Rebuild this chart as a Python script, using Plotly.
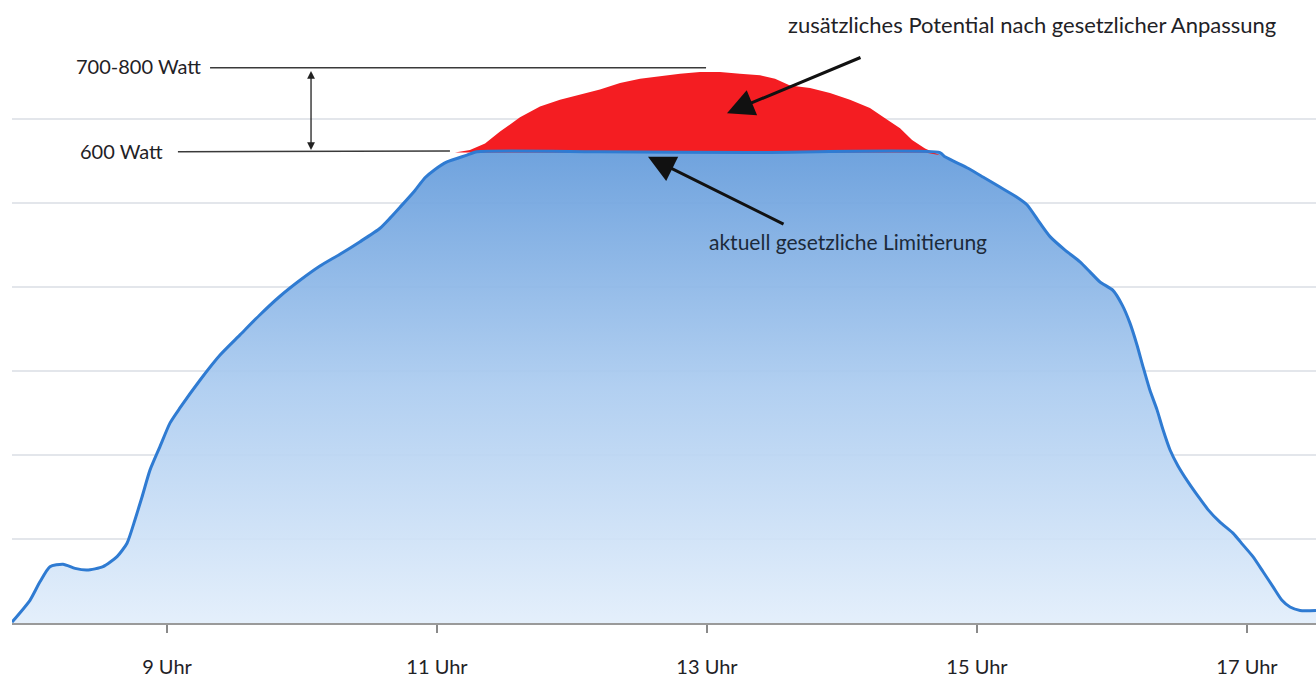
import numpy as np
import plotly.graph_objects as go

# ---- data (hour of day, Watt) ----
LIMIT = 560  # current legal limit (drawn as "600 Watt" in the sketch)

hours_actual = [7.852, 7.985, 8.059, 8.133, 8.230, 8.319, 8.407, 8.526, 8.630, 8.704,
                8.763, 8.815, 8.874, 8.948, 9.022, 9.096, 9.244, 9.393, 9.541, 9.689,
                9.837, 9.985, 10.133, 10.281, 10.430, 10.578, 10.652, 10.726, 10.837, 10.911,
                10.985, 11.074, 11.222, 11.296, 12.207, 13.319, 14.726, 14.763, 14.926, 15.044,
                15.170, 15.296, 15.370, 15.467, 15.541, 15.652, 15.763, 15.837, 15.911,
                16.007, 16.074, 16.133, 16.185, 16.230, 16.281, 16.333, 16.378, 16.430,
                16.489, 16.563, 16.637, 16.711, 16.800, 16.896, 16.970, 17.044, 17.119,
                17.193, 17.259, 17.319, 17.393, 17.511]
watt_actual = [1, 27, 49, 67, 70, 65, 63, 67, 79, 95,
               123, 150, 182, 210, 238, 256, 289, 319, 343, 367,
               389, 408, 425, 439, 454, 470, 482, 495, 515, 530,
               540, 549, 557, 561, 561, 560, 560, 555, 542, 531,
               519, 507, 498, 476, 460, 444, 430, 418, 406,
               396, 379, 357, 331, 305, 277, 254, 230, 206,
               187, 168, 151, 135, 120, 107, 93, 79, 61,
               43, 27, 19, 15, 15]

hours_potential = [11.133, 11.244, 11.356, 11.467, 11.615, 11.763, 11.911, 12.059, 12.207,
                   12.356, 12.504, 12.652, 12.800, 12.948, 13.096, 13.244, 13.393, 13.504,
                   13.615, 13.763, 13.911, 14.059, 14.207, 14.319, 14.430, 14.519, 14.615,
                   14.726, 14.837]
watt_potential = [560, 563, 571, 585, 602, 615, 623, 629, 635,
                  643, 648, 651, 654, 656, 656, 654, 652, 648,
                  640, 637, 631, 623, 613, 601, 589, 575, 565,
                  557, 548]

tick_vals = [9, 11, 13, 15, 17]
tick_text = ["9 Uhr", "11 Uhr", "13 Uhr", "15 Uhr", "17 Uhr"]

FONT = "Lato"
TXT = "#1f2226"
LINE_BLUE = "#2f7bd2"
RED = "#f41d22"

fig = go.Figure()

# blue gradient area
fig.add_trace(go.Scatter(
    x=hours_actual, y=watt_actual, mode="lines", line=dict(width=0, shape="spline", smoothing=0.6),
    fill="tozeroy",
    fillgradient=dict(type="vertical",
                      colorscale=[[0, "rgba(226,238,251,0.93)"], [0.5, "rgba(172,204,240,0.93)"],
                                  [1, "rgba(104,158,220,0.95)"]],
                      start=0, stop=LIMIT),
    hoverinfo="skip", showlegend=False))

# helper: potential clipped to the limit (base of the red area)
fig.add_trace(go.Scatter(
    x=hours_potential, y=np.minimum(watt_potential, LIMIT), mode="lines",
    line=dict(width=0), hoverinfo="skip", showlegend=False))

# red additional potential
fig.add_trace(go.Scatter(
    x=hours_potential, y=watt_potential, mode="lines", line=dict(width=0),
    fill="tonexty", fillcolor=RED, hoverinfo="skip", showlegend=False))

# blue outline on top
fig.add_trace(go.Scatter(
    x=hours_actual, y=watt_actual, mode="lines",
    line=dict(color=LINE_BLUE, width=3, shape="spline", smoothing=0.6),
    hoverinfo="skip", showlegend=False))

# ---- annotation lines ----
fig.add_shape(type="line", x0=9.319, x1=12.993, y0=661, y1=661, xref="x", yref="y",
              line=dict(color="#3a3a3a", width=1.5))
fig.add_shape(type="line", x0=9.081, x1=11.096, y0=561, y1=562, xref="x", yref="y",
              line=dict(color="#3a3a3a", width=1.5))

fig.add_annotation(x=9.267, y=663, xref="x", yref="y", text="700-800 Watt", showarrow=False,
                   xanchor="right", yanchor="middle", font=dict(family=FONT, size=20, color=TXT))
fig.add_annotation(x=8.985, y=562, xref="x", yref="y", text="600 Watt", showarrow=False,
                   xanchor="right", yanchor="middle", font=dict(family=FONT, size=20, color=TXT))

# vertical double arrow
fig.add_annotation(x=10.067, y=563, ax=10.067, ay=659, xref="x", yref="y", axref="x", ayref="y",
                   text="", showarrow=True, arrowhead=2, startarrowhead=2, arrowside="end+start",
                   arrowsize=1.2, arrowwidth=1.3, arrowcolor="#222")

# arrow to red area
fig.add_annotation(x=13.148, y=607, ax=14.148, ay=674, xref="x", yref="y", axref="x", ayref="y",
                   text="", showarrow=True, arrowhead=2, arrowsize=1.8, arrowwidth=3,
                   arrowcolor="#111")
fig.add_annotation(x=15.407, y=713, xref="x", yref="y",
                   text="zusätzliches Potential nach gesetzlicher Anpassung", showarrow=False,
                   xanchor="center", yanchor="middle", font=dict(family=FONT, size=22, color=TXT))

# arrow to limit
fig.add_annotation(x=12.563, y=555, ax=13.578, ay=474, xref="x", yref="y", axref="x", ayref="y",
                   text="", showarrow=True, arrowhead=2, arrowsize=1.8, arrowwidth=3,
                   arrowcolor="#111")
fig.add_annotation(x=14.044, y=454, xref="x", yref="y",
                   text="aktuell gesetzliche Limitierung", showarrow=False,
                   xanchor="center", yanchor="middle", font=dict(family=FONT, size=21, color="#1c2a3a"))

fig.update_layout(
    width=1316, height=678,
    margin=dict(l=12, r=0, t=0, b=55),
    paper_bgcolor="white", plot_bgcolor="white",
    xaxis=dict(range=[7.852, 17.511], tickvals=tick_vals, ticktext=tick_text,
               showgrid=False, zeroline=False, showline=True, linecolor="#9a9a9a", linewidth=2,
               ticks="outside", ticklen=8, tickwidth=1.5, tickcolor="#8a8a8a",
               ticklabelstandoff=17,
               tickfont=dict(family=FONT, size=20, color=TXT), fixedrange=True),
    yaxis=dict(range=[0, 741.7], tickvals=[100, 200, 300, 400, 500, 600],
               showgrid=True, gridcolor="#e3e6eb", gridwidth=1.5, showticklabels=False,
               zeroline=False, showline=False, ticks="", fixedrange=True),
)

fig.write_html("out.html", config={"displayModeBar": False},
               post_script="document.body.style.margin='0';document.body.style.overflow='hidden';")
